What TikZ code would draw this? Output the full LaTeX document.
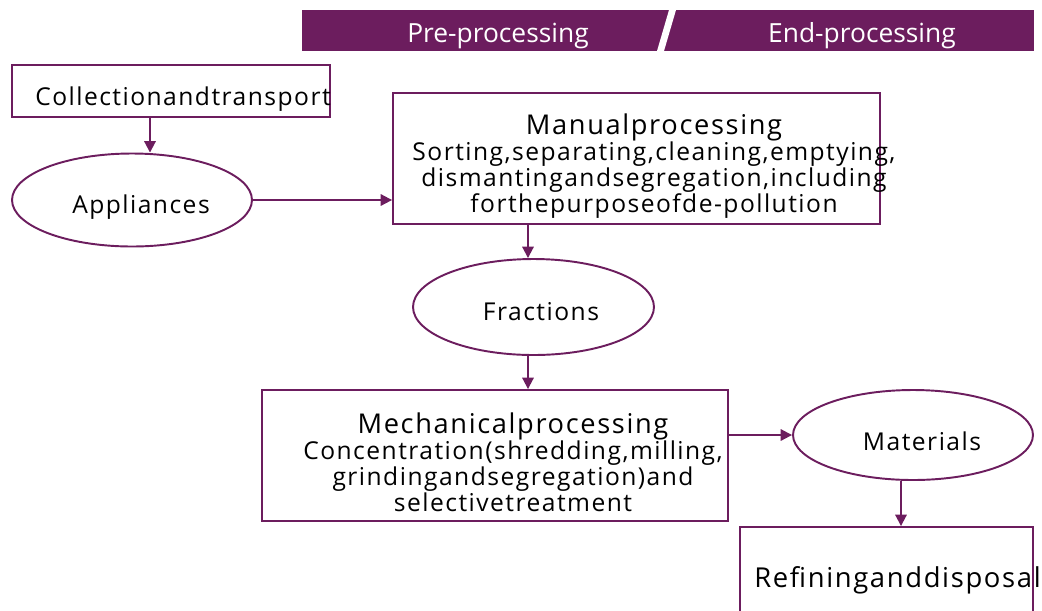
\documentclass[tikz,border=0pt]{standalone}
\usepackage{fontspec}
\setmainfont{Open Sans}[LetterSpace=6]
\newfontfamily\bannerfont{Open Sans}
\usetikzlibrary{arrows.meta,shapes.geometric}
\definecolor{wine}{RGB}{108,29,94}

\tikzset{
  stagebox/.style={draw=wine, line width=1.1pt, rectangle, inner sep=0pt},
  pool/.style={draw=wine, line width=1.1pt, ellipse, inner sep=0pt},
  flow/.style={draw=wine, line width=1.1pt, -{Triangle[length=6.5pt,width=6.5pt]}},
  words/.style={font=\fontsize{14}{14.8}\selectfont, align=center, inner sep=0pt},
  phase/.style={text=white, font=\bannerfont\fontsize{15}{17}\selectfont, inner sep=0pt},
}
\newcommand{\headline}[1]{{\fontsize{15.5}{16}\selectfont #1}}

\begin{document}
\begin{tikzpicture}[x=0.02cm,y=-0.02cm]
\useasboundingbox (0,0) rectangle (1042,610);
\clip (0,0) rectangle (1042,610);

% banner
\fill[wine] (302,10) rectangle (1034,51);
\fill[white] (669,10) -- (676,10) -- (664,51) -- (657,51) -- cycle;
\node[phase] (pre) at (498,36) {Pre-processing};
\node[phase] (endp) at (862,36) {End-processing};

% boxes and pools
\node[stagebox, minimum width=6.36cm, minimum height=1.04cm] (collect) at (171,91) {};
\node[words] (collecttxt) at (183,99) {Collectionandtransport};

\node[pool, minimum width=4.8cm, minimum height=1.86cm] (apps) at (132,200) {};
\node[words] (appstxt) at (141,207) {Appliances};

\node[stagebox, minimum width=9.74cm, minimum height=2.62cm] (manual) at (636.5,158.5) {};
\node[words] (manualtxt) at (654,166) {\headline{Manualprocessing}\\
  Sorting,separating,cleaning,emptying,\\
  dismantingandsegregation,including\\
  forthepurposeofde-pollution};

\node[pool, minimum width=4.82cm, minimum height=1.92cm] (frac) at (533.5,307) {};
\node[words] (fractxt) at (541,312) {Fractions};

\node[stagebox, minimum width=9.32cm, minimum height=2.62cm] (mech) at (495,455.5) {};
\node[words] (mechtxt) at (513,462) {\headline{Mechanicalprocessing}\\
  Concentration(shredding,milling,\\
  grindingandsegregation)and\\
  selectivetreatment};

\node[pool, minimum width=4.8cm, minimum height=1.8cm] (mat) at (913,435) {};
\node[words] (mattxt) at (922,441) {Materials};

\node[stagebox, minimum width=5.86cm, minimum height=2.26cm] (refine) at (886.5,583.5) {};
\node[words, font=\fontsize{15.6}{16}\selectfont] (refinetxt) at (897.5,580) {Refininganddisposal};

% connectors
\coordinate (c1) at (150,0);
\coordinate (c2) at (528,0);
\coordinate (c3) at (901,0);
\draw[flow] (collect.south -| c1) -- (apps.north -| c1);
\draw[flow] (apps.east) -- (apps.east -| manual.west);
\draw[flow] (manual.south -| c2) -- (frac.north -| c2);
\draw[flow] (frac.south -| c2) -- (mech.north -| c2);
\draw[flow] (mat.west -| mech.east) -- (mat.west);
\draw[flow] (mat.south -| c3) -- (refine.north -| c3);

\end{tikzpicture}
\end{document}
